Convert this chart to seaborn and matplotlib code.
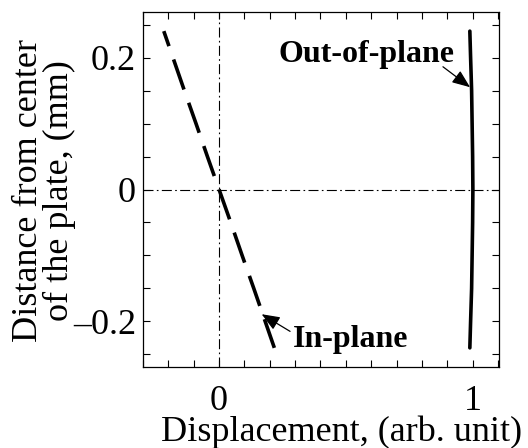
import numpy as np
import pandas as pd
import seaborn as sns
import matplotlib
matplotlib.use("Agg")
import matplotlib.pyplot as plt
from matplotlib.ticker import MultipleLocator, FixedLocator

# Depth through the plate (mm) and the two displacement profiles (top to bottom)
depth_mm = [0.24, 0.20, 0.15, 0.10, 0.05, 0.0, -0.05, -0.10, -0.15, -0.20, -0.24]
in_plane = [-0.218, -0.182, -0.137, -0.091, -0.046, 0.0, 0.046, 0.091, 0.137, 0.182, 0.218]
out_of_plane = [0.989, 0.992, 0.996, 0.998, 1.000, 1.001, 1.000, 0.998, 0.996, 0.992, 0.989]

x_ticks = [0, 1]
x_tick_labels = ["0", "1"]
y_ticks = [-0.2, 0.0, 0.2]
y_tick_labels = ["\u20130.2", "0", "0.2"]

df = pd.concat([
    pd.DataFrame({"depth": depth_mm, "disp": in_plane, "mode": "In-plane"}),
    pd.DataFrame({"depth": depth_mm, "disp": out_of_plane, "mode": "Out-of-plane"}),
])

sns.set_theme(style="white")
plt.rcParams["font.family"] = ["Liberation Serif", "DejaVu Serif"]
plt.rcParams["text.color"] = "black"
plt.rcParams["axes.labelcolor"] = "black"

fig = plt.figure(figsize=(5.28, 4.48), dpi=100)
ax = fig.add_axes([143 / 528, 1 - 367 / 448, 356 / 528, 355 / 448])

# Reference axes through the origin
ax.axvline(0, color="black", lw=0.8, ls=(0, (9, 3, 1.5, 3)), zorder=1)
ax.axhline(0, color="black", lw=0.8, ls=(0, (9, 3, 1.5, 3)), zorder=1)

sns.lineplot(data=df[df["mode"] == "In-plane"], x="disp", y="depth", sort=False,
             estimator=None, color="black", lw=2.6, ax=ax, legend=False)
ax.lines[-1].set_linestyle((4.4, (8.8, 3.9)))
sns.lineplot(data=df[df["mode"] == "Out-of-plane"], x="disp", y="depth", sort=False,
             estimator=None, color="black", lw=2.6, ax=ax, legend=False)

ax.set_xlim(-0.30, 1.104)
ax.set_ylim(-0.269, 0.269)

ax.xaxis.set_major_locator(FixedLocator(x_ticks))
ax.set_xticklabels(x_tick_labels)
ax.xaxis.set_minor_locator(MultipleLocator(0.1))
ax.yaxis.set_major_locator(FixedLocator(y_ticks))
ax.set_yticklabels(y_tick_labels)
ax.yaxis.set_minor_locator(MultipleLocator(0.05))

ax.tick_params(which="both", direction="in", top=True, right=True, bottom=True, left=True,
               length=5, width=0.8, color="black", labelsize=26, labelcolor="black")
ax.tick_params(axis="y", pad=5)
ax.tick_params(axis="x", pad=13)
for s in ax.spines.values():
    s.set_color("black")
    s.set_linewidth(0.9)

ax.set_xlabel("Displacement, (arb. unit)", fontsize=26)
ax.xaxis.set_label_coords(0.559, -0.138)
ax.set_ylabel("Distance from center\nof the plate, (mm)", fontsize=26, linespacing=0.95)
ax.yaxis.set_label_coords(-0.187, 0.497)

# Labels with pointer arrows
ax.text(0.58, 0.205, "Out-of-plane", fontsize=23, fontweight="bold",
        ha="center", va="center")
ax.text(0.52, -0.227, "In-plane", fontsize=23, fontweight="bold",
        ha="center", va="center")
arrow = dict(arrowstyle="-|>,head_length=0.55,head_width=0.22", color="black",
             lw=0.9, shrinkA=0, shrinkB=0, mutation_scale=20)
ax.annotate("", xy=(0.99, 0.155), xytext=(0.883, 0.186), arrowprops=arrow)
ax.annotate("", xy=(0.168, -0.189), xytext=(0.28, -0.215), arrowprops=arrow)

fig.savefig("out.png", dpi=100)
